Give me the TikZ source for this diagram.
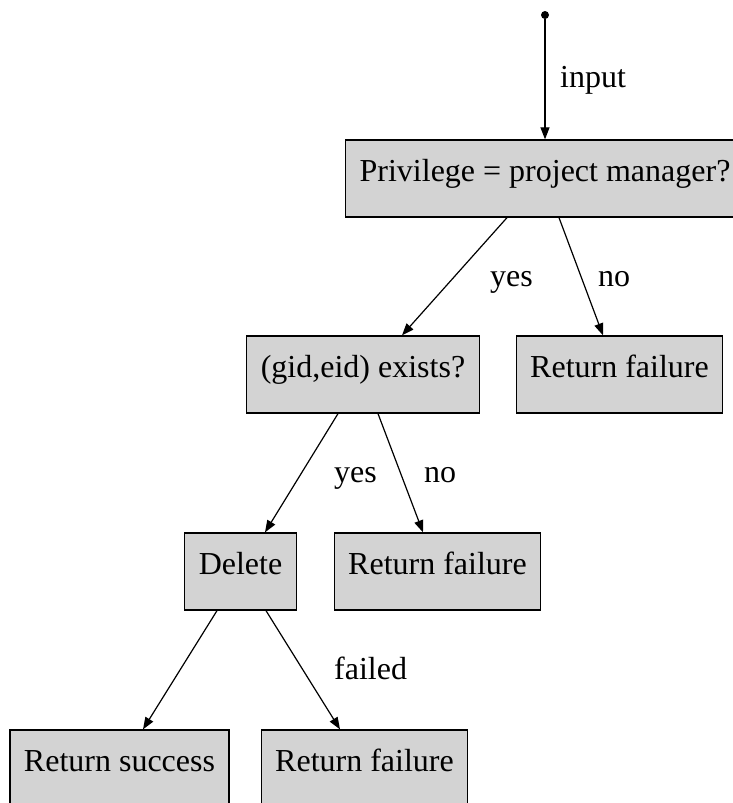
\documentclass[tikz,border=0pt]{standalone}
\usepackage{fontspec}
\setmainfont{Liberation Serif}
\usetikzlibrary{arrows.meta}
\definecolor{boxgray}{HTML}{D3D3D3}
\begin{document}
\begin{tikzpicture}
                [x=1pt,y=-1pt,
                every node/.style={font=\fontsize{32}{38}\selectfont},
                box/.style={rectangle,draw,fill=boxgray,line width=1.3pt,minimum height=77pt,
                            inner xsep=14pt,text height=0.66em,text depth=0pt},
                lbl/.style={anchor=base west,inner sep=0pt},
                dot/.style={circle,fill=black,inner sep=0pt,minimum size=8pt},
                arr/.style={-{Triangle[length=12pt,width=9pt]},line width=1.2pt}]
                \useasboundingbox (0,0) rectangle (732,803);
                \node[dot] (start) at (545,15) {};
                \node[box] (priv) at (545,178.5) {Privilege = project manager?};
                \node[box] (gid) at (363,374.5) {(gid,eid) exists?};
                \node[box] (failA) at (619.5,374.5) {Return failure};
                \node[box] (del) at (240.5,571.5) {Delete};
                \node[box] (failB) at (437.5,571.5) {Return failure};
                \node[box] (succ) at (119.5,768.5) {Return success};
                \node[box] (failC) at (364.5,768.5) {Return failure};
                % edge labels
                \node[lbl] (input) at (560,87) {input};
                \node[lbl] (yesA) at (490,286) {yes};
                \node[lbl] (noA) at (598,286) {no};
                \node[lbl] (yesB) at (334,482) {yes};
                \node[lbl] (noB) at (424,482) {no};
                \node[lbl] (failed) at (334,679) {failed};
                \path[arr] (start) edge (priv.north)
                        ([xshift=-38pt]priv.south) edge ([xshift=39pt]gid.north)
                        ([xshift=14pt]priv.south) edge ([xshift=-16.5pt]failA.north)
                        ([xshift=-25pt]gid.south) edge ([xshift=24.5pt]del.north)
                        ([xshift=15pt]gid.south) edge ([xshift=-14.5pt]failB.north)
                        ([xshift=-23.5pt]del.south) edge ([xshift=23.5pt]succ.north)
                        ([xshift=25.5pt]del.south) edge ([xshift=-24.5pt]failC.north);
            \end{tikzpicture}
\end{document}
